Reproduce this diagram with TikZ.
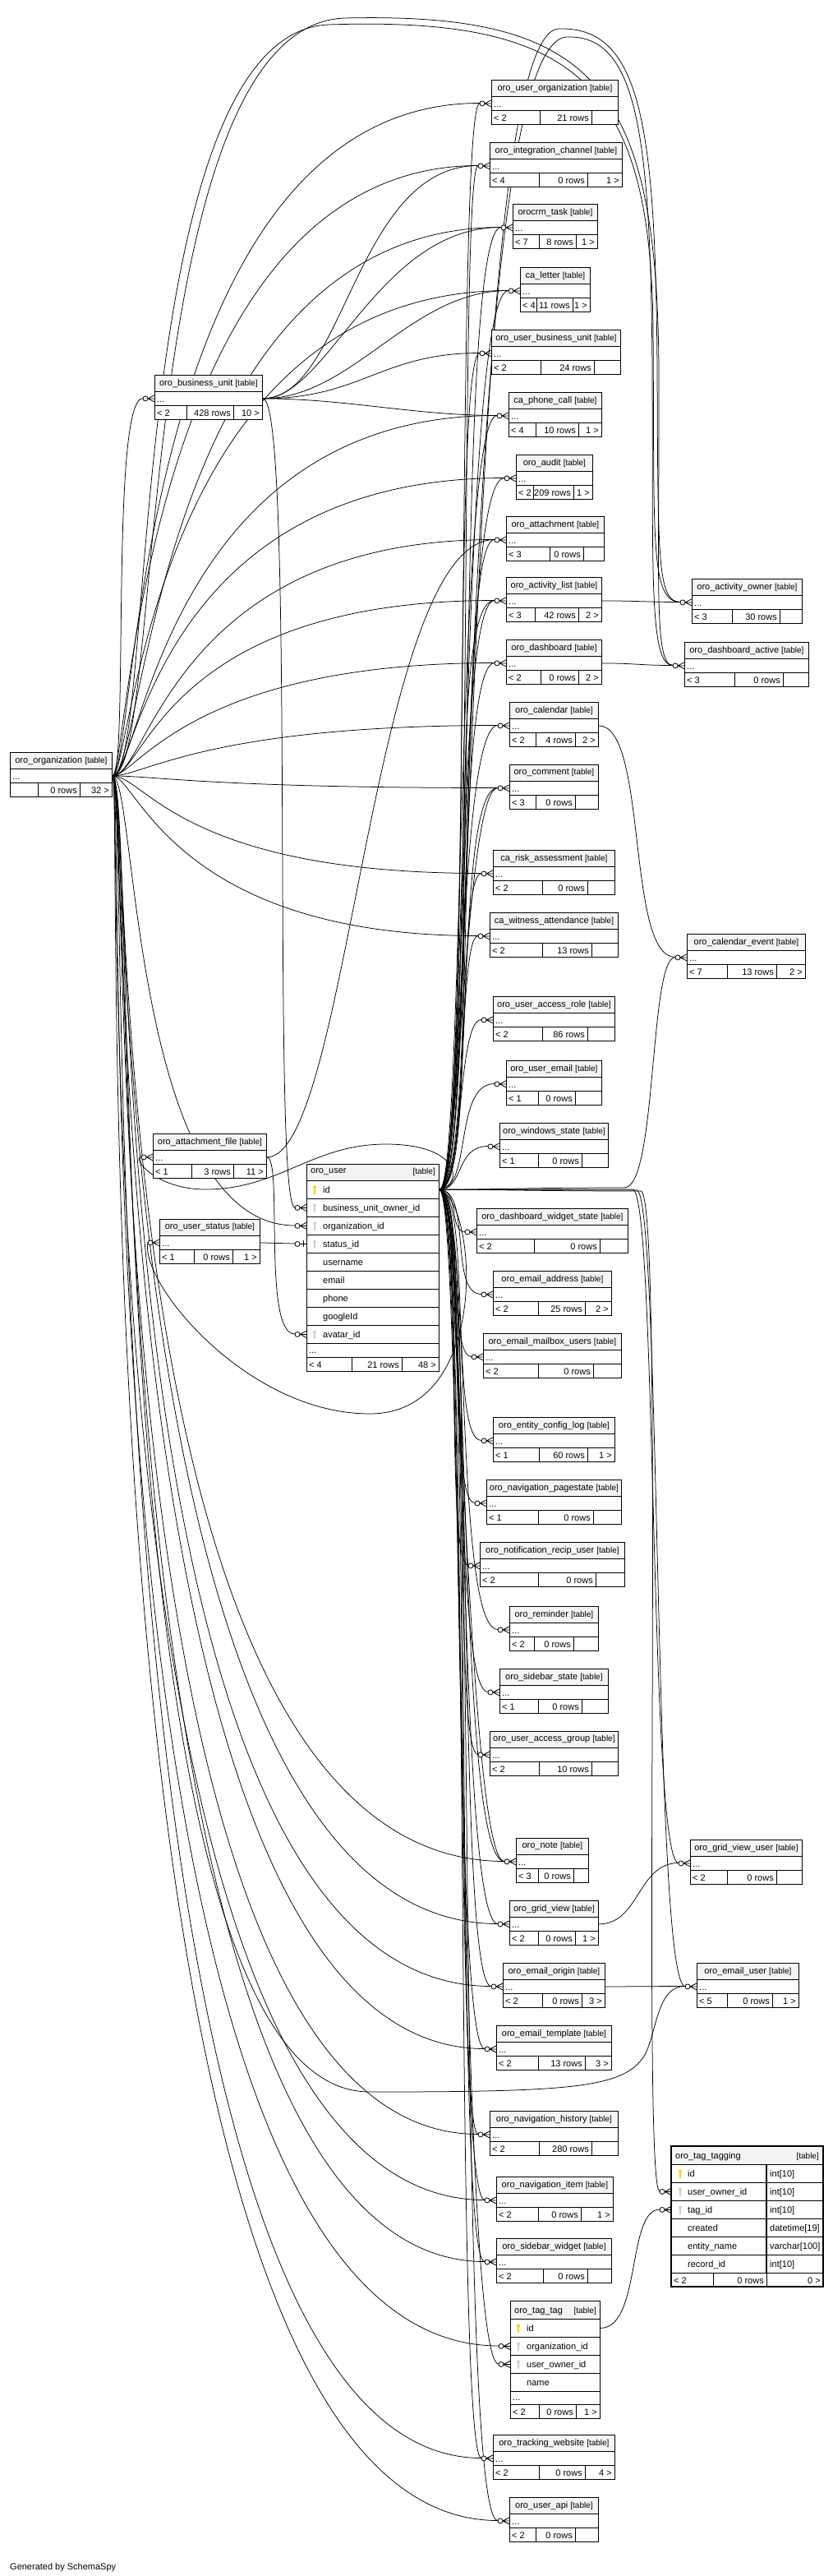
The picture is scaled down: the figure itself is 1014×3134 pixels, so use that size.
\documentclass[tikz,border=0pt]{standalone}
\usepackage{fontspec}
\setmainfont{Liberation Sans}
\usetikzlibrary{backgrounds,calc}
\definecolor{hdr}{HTML}{F4F4F4}
\definecolor{pkc}{HTML}{F2D500}
\definecolor{fkc}{HTML}{CFCFCF}
\newcommand\fsz{\fontsize{11}{13}\selectfont}
\newcommand\tsm[1]{{\fontsize{10}{12}\selectfont #1}}
% simple table: name, x1, x2, ytop, title
\newcommand\mytbl[5]{%
  \node[box,fill=hdr,minimum width={#3-#2},minimum height=20] (#1-h) at (#2,#4) {};
  \node[txt] (#1-ht) at (#1-h.center) {#5 \tsm{[table]}};
  \node[box,minimum width={#3-#2},minimum height=17] (#1) at (#2,{#4+20}) {};
  \node[txt,anchor=base west] (#1-dt) at ({#2+3},{#4+33}) {...};
  \coordinate (#1-i) at ({#2-14},{#4+28.5});
}
% footer: name, x1, s1, s2, x2, ytop(table), left, mid, right
\newcommand\tfoot[9]{%
  \node[box,minimum width={#5-#2},minimum height=17] (#1-f) at (#2,{#6+37}) {};
  \draw[tline] (#3,{#6+37}) -- (#3,{#6+54}) (#4,{#6+37}) -- (#4,{#6+54});
  \node[txt,anchor=base west] (#1-fl) at ({#2+3},{#6+50}) {#7};
  \node[txt,anchor=base east] (#1-fm) at ({#4-3},{#6+50}) {#8};
  \node[txt,anchor=base east] (#1-fr) at ({#5-3},{#6+50}) {#9};
}
% detailed row: name, x, ytop, width, text
\newcommand\drow[5]{%
  \node[box,minimum width=#4,minimum height=22] (#1) at (#2,#3) {};
  \node[txt,anchor=base west] (#1-t) at ({#2+20},{#3+15}) {#5};
}
\newcommand\keyic[3]{%
  \fill[#1] (#2,{#3-2.5}) circle (2);
  \draw[#1,line width=1.4pt] (#2,{#3-2}) -- (#2,{#3+6});
}
\newcommand\crow[1]{%
  \begin{scope}[shift={(#1.west)}]
    \draw[mk] (-8,0) -- (0,-4) (-8,0) -- (0,0) (-8,0) -- (0,4);
    \draw[mk,fill=white] (-11,0) circle (3);
  \end{scope}}
\newcommand\crowone[1]{%
  \begin{scope}[shift={(#1.west)}]
    \draw[mk] (-8,0) -- (0,0) (-4,-4) -- (-4,4);
    \draw[mk,fill=white] (-11,0) circle (3);
  \end{scope}}
\begin{document}
\begin{tikzpicture}[x=1pt,y=-1pt,
  txt/.style={inner sep=0,font=\fsz},
  tline/.style={line width=0.8pt},
  box/.style={draw,inner sep=0,anchor=north west,line width=0.8pt,fill=white},
  rel/.style={line width=0.75pt},
  mk/.style={line width=0.8pt}]
\useasboundingbox (0,0) rectangle (1014,3134);
\begin{pgfonlayer}{background}
\fill[white] (0,0) rectangle (1014,3134);
\end{pgfonlayer}

% ---------- left tables
\mytbl{org}{12}{136}{915}{oro\_organization}
\tfoot{org}{12}{46}{97}{136}{915}{}{0 rows}{32 >}
\mytbl{bu}{188}{319}{456}{oro\_business\_unit}
\tfoot{bu}{188}{227}{284}{319}{456}{< 2}{428 rows}{10 >}
\mytbl{attf}{186}{324}{1379}{oro\_attachment\_file}
\tfoot{attf}{186}{233}{284}{324}{1379}{< 1}{3 rows}{11 >}
\mytbl{ustat}{194}{316}{1483}{oro\_user\_status}
\tfoot{ustat}{194}{236}{283}{316}{1483}{< 1}{0 rows}{1 >}

% ---------- oro_user
\node[box,fill=hdr,minimum width=161,minimum height=20] (user-h) at (373,1416) {};
\node[txt,anchor=west] (user-ht) at (378,1426) {oro\_user};
\node[txt,anchor=east] (user-hs) at (530,1426) {\tsm{[table]}};
\drow{user-id}{373}{1436}{161}{id}
\drow{user-bu}{373}{1458}{161}{business\_unit\_owner\_id}
\drow{user-org}{373}{1480}{161}{organization\_id}
\drow{user-st}{373}{1502}{161}{status\_id}
\drow{user-un}{373}{1524}{161}{username}
\drow{user-em}{373}{1546}{161}{email}
\drow{user-ph}{373}{1568}{161}{phone}
\drow{user-gg}{373}{1590}{161}{googleId}
\drow{user-av}{373}{1612}{161}{avatar\_id}
\node[box,minimum width=161,minimum height=17] (user-d) at (373,1634) {};
\node[txt,anchor=base west] (user-dt) at (376,1646) {...};
\tfoot{user}{373}{428}{489}{534}{1614}{< 4}{21 rows}{48 >}
\keyic{pkc}{383}{1447}
\keyic{fkc}{383}{1469}
\keyic{fkc}{383}{1491}
\keyic{fkc}{383}{1513}
\keyic{fkc}{383}{1623}
\coordinate (user-bu-i) at (359,1469);
\coordinate (user-org-i) at (359,1491);
\coordinate (user-st-i) at (359,1513);
\coordinate (user-av-i) at (359,1623);

% ---------- middle column
\mytbl{uorg}{598}{752}{97}{oro\_user\_organization}
\tfoot{uorg}{598}{657}{720}{752}{97}{< 2}{21 rows}{}
\mytbl{integ}{596}{757}{173}{oro\_integration\_channel}
\tfoot{integ}{596}{656}{715}{757}{173}{< 4}{0 rows}{1 >}
\mytbl{task}{624}{727}{248}{orocrm\_task}
\tfoot{task}{624}{656}{701}{727}{248}{< 7}{8 rows}{1 >}
\mytbl{letter}{633}{718}{325}{ca\_letter}
\tfoot{letter}{633}{653}{697}{718}{325}{< 4}{11 rows}{1 >}
\mytbl{uorgbu}{598}{755}{401}{oro\_user\_business\_unit}
\tfoot{uorgbu}{598}{658}{723}{755}{401}{< 2}{24 rows}{}
\mytbl{phone}{619}{732}{477}{ca\_phone\_call}
\tfoot{phone}{619}{652}{704}{732}{477}{< 4}{10 rows}{1 >}
\mytbl{audit}{628}{721}{553}{oro\_audit}
\tfoot{audit}{628}{649}{698}{721}{553}{< 2}{209 rows}{1 >}
\mytbl{attach}{616}{735}{628}{oro\_attachment}
\tfoot{attach}{616}{669}{710}{735}{628}{< 3}{0 rows}{}
\mytbl{actlist}{616}{732}{702}{oro\_activity\_list}
\tfoot{actlist}{616}{651}{704}{732}{702}{< 3}{42 rows}{2 >}
\mytbl{dash}{616}{732}{778}{oro\_dashboard}
\tfoot{dash}{616}{658}{704}{732}{778}{< 2}{0 rows}{2 >}
\mytbl{cal}{620}{728}{854}{oro\_calendar}
\tfoot{cal}{620}{652}{700}{728}{854}{< 2}{4 rows}{2 >}
\mytbl{comment}{620}{728}{930}{oro\_comment}
\tfoot{comment}{620}{652}{700}{728}{930}{< 3}{0 rows}{}
\mytbl{risk}{600}{748}{1034}{ca\_risk\_assessment}
\tfoot{risk}{600}{660}{715}{748}{1034}{< 2}{0 rows}{}
\mytbl{witness}{596}{752}{1110}{ca\_witness\_attendance}
\tfoot{witness}{596}{660}{720}{752}{1110}{< 2}{13 rows}{}
\mytbl{uacr}{600}{748}{1212}{oro\_user\_access\_role}
\tfoot{uacr}{600}{660}{715}{748}{1212}{< 2}{86 rows}{}
\mytbl{uemail}{616}{732}{1290}{oro\_user\_email}
\tfoot{uemail}{616}{655}{700}{732}{1290}{< 1}{0 rows}{}
\mytbl{win}{608}{740}{1366}{oro\_windows\_state}
\tfoot{win}{608}{655}{708}{740}{1366}{< 1}{0 rows}{}
\mytbl{dws}{580}{764}{1470}{oro\_dashboard\_widget\_state}
\tfoot{dws}{580}{650}{730}{764}{1470}{< 2}{0 rows}{}
\mytbl{eaddr}{600}{744}{1546}{oro\_email\_address}
\tfoot{eaddr}{600}{655}{712}{744}{1546}{< 2}{25 rows}{2 >}
\mytbl{emu}{588}{756}{1622}{oro\_email\_mailbox\_users}
\tfoot{emu}{588}{655}{722}{756}{1622}{< 2}{0 rows}{}
\mytbl{ecl}{600}{748}{1724}{oro\_entity\_config\_log}
\tfoot{ecl}{600}{656}{715}{748}{1724}{< 1}{60 rows}{1 >}
\mytbl{navps}{592}{756}{1800}{oro\_navigation\_pagestate}
\tfoot{navps}{592}{655}{722}{756}{1800}{< 1}{0 rows}{}
\mytbl{nru}{584}{760}{1876}{oro\_notification\_recip\_user}
\tfoot{nru}{584}{655}{725}{760}{1876}{< 2}{0 rows}{}
\mytbl{rem}{620}{728}{1954}{oro\_reminder}
\tfoot{rem}{620}{650}{698}{728}{1954}{< 2}{0 rows}{}
\mytbl{sbs}{608}{740}{2030}{oro\_sidebar\_state}
\tfoot{sbs}{608}{655}{708}{740}{2030}{< 1}{0 rows}{}
\mytbl{uag}{596}{752}{2106}{oro\_user\_access\_group}
\tfoot{uag}{596}{656}{720}{752}{2106}{< 2}{10 rows}{}
\mytbl{note}{628}{716}{2236}{oro\_note}
\tfoot{note}{628}{655}{698}{716}{2236}{< 3}{0 rows}{}
\mytbl{gv}{620}{728}{2312}{oro\_grid\_view}
\tfoot{gv}{620}{655}{700}{728}{2312}{< 2}{0 rows}{1 >}
\mytbl{eorig}{612}{736}{2388}{oro\_email\_origin}
\tfoot{eorig}{612}{660}{708}{736}{2388}{< 2}{0 rows}{3 >}
\mytbl{etpl}{604}{744}{2464}{oro\_email\_template}
\tfoot{etpl}{604}{655}{712}{744}{2464}{< 2}{13 rows}{3 >}
\mytbl{navh}{596}{752}{2568}{oro\_navigation\_history}
\tfoot{navh}{596}{656}{720}{752}{2568}{< 2}{280 rows}{}
\mytbl{navi}{604}{746}{2648}{oro\_navigation\_item}
\tfoot{navi}{604}{655}{707}{746}{2648}{< 2}{0 rows}{1 >}
\mytbl{sbw}{604}{744}{2723}{oro\_sidebar\_widget}
\tfoot{sbw}{604}{661}{715}{744}{2723}{< 2}{0 rows}{}
\mytbl{track}{600}{748}{2962}{oro\_tracking\_website}
\tfoot{track}{600}{656}{712}{748}{2962}{< 2}{0 rows}{4 >}
\mytbl{uapi}{620}{728}{3038}{oro\_user\_api}
\tfoot{uapi}{620}{652}{700}{728}{3038}{< 2}{0 rows}{}

% ---------- oro_tag_tag
\node[box,fill=hdr,minimum width=109,minimum height=22] (tagtag-h) at (621,2799) {};
\node[txt,anchor=base west] (tagtag-ht) at (626,2814) {oro\_tag\_tag};
\node[txt,anchor=base east] (tagtag-hs) at (726,2814) {\tsm{[table]}};
\drow{tagtag-id}{621}{2821}{109}{id}
\drow{tagtag-org}{621}{2843}{109}{organization\_id}
\drow{tagtag-user}{621}{2865}{109}{user\_owner\_id}
\drow{tagtag-name}{621}{2887}{109}{name}
\node[box,minimum width=109,minimum height=16] (tagtag-d) at (621,2909) {};
\node[txt,anchor=base west] (tagtag-dt) at (624,2920) {...};
\tfoot{tagtag}{621}{656}{701}{730}{2888}{< 2}{0 rows}{1 >}
\keyic{pkc}{631}{2832}
\keyic{fkc}{631}{2854}
\keyic{fkc}{631}{2876}
\coordinate (tagtag-org-i) at (607,2854);
\coordinate (tagtag-user-i) at (607,2876);

% ---------- right column
\mytbl{actown}{842}{976}{704}{oro\_activity\_owner}
\tfoot{actown}{842}{891}{949}{976}{704}{< 3}{30 rows}{}
\mytbl{dashact}{833}{984}{781}{oro\_dashboard\_active}
\tfoot{dashact}{833}{894}{953}{984}{781}{< 3}{0 rows}{}
\mytbl{calev}{836}{980}{1136}{oro\_calendar\_event}
\tfoot{calev}{836}{885}{945}{980}{1136}{< 7}{13 rows}{2 >}
\mytbl{gvu}{840}{976}{2238}{oro\_grid\_view\_user}
\tfoot{gvu}{840}{885}{945}{976}{2238}{< 2}{0 rows}{}
\mytbl{euser}{848}{972}{2388}{oro\_email\_user}
\tfoot{euser}{848}{885}{940}{972}{2388}{< 5}{0 rows}{1 >}

% ---------- oro_tag_tagging
\node[box,fill=hdr,minimum width=185,minimum height=22] (tagging-h) at (817,2611) {};
\node[txt,anchor=base west] (tagging-ht) at (822,2626) {oro\_tag\_tagging};
\node[txt,anchor=base east] (tagging-hs) at (997,2626) {\tsm{[table]}};
\drow{tagging-id}{817}{2633}{185}{id}
\drow{tagging-user}{817}{2655}{185}{user\_owner\_id}
\drow{tagging-tag}{817}{2677}{185}{tag\_id}
\drow{tagging-cr}{817}{2699}{185}{created}
\drow{tagging-en}{817}{2721}{185}{entity\_name}
\drow{tagging-rec}{817}{2743}{185}{record\_id}
\draw[line width=1.6pt] (933,2633) -- (933,2765);
\node[txt,anchor=base west] (tagging-t1) at (937,2648) {int[10]};
\node[txt,anchor=base west] (tagging-t2) at (937,2670) {int[10]};
\node[txt,anchor=base west] (tagging-t3) at (937,2692) {int[10]};
\node[txt,anchor=base west] (tagging-t4) at (937,2714) {datetime[19]};
\node[txt,anchor=base west] (tagging-t5) at (937,2736) {varchar[100]};
\node[txt,anchor=base west] (tagging-t6) at (937,2758) {int[10]};
\tfoot{tagging}{817}{868}{933}{1002}{2728}{< 2}{0 rows}{0 >}
\draw[line width=2.2pt] (817,2611) rectangle (1002,2782);
\keyic{pkc}{828}{2644}
\keyic{fkc}{828}{2666}
\keyic{fkc}{828}{2688}
\coordinate (tagging-user-i) at (803,2666);
\coordinate (tagging-tag-i) at (803,2688);

\node[txt,anchor=base west] (gen) at (12,3126) {Generated by SchemaSpy};

% ---------- markers
\foreach \t in {uorg,integ,task,letter,uorgbu,phone,audit,attach,actlist,dash,cal,comment,risk,witness,uacr,uemail,win,dws,eaddr,emu,ecl,navps,nru,rem,sbs,uag,note,gv,eorig,etpl,navh,navi,sbw,track,uapi,actown,dashact,calev,gvu,euser,bu,attf,ustat,user-bu,user-org,user-av,tagtag-org,tagtag-user,tagging-user,tagging-tag}{\crow{\t}}
\crowone{user-st}

% ---------- relations
\begin{pgfonlayer}{background}
% from oro_organization
\foreach \t/\a/\b in {uorg/30/424,integ/20/412,task/40/420,letter/25/439,phone/35/405,audit/30/424,attach/45/392,actlist/40/402,dash/30/372,cal/40/356,comment/50/346,risk/40/366,witness/30/372,note/25/494,gv/20/476,eorig/30/488,etpl/20/470,navh/25/482,navi/15/500,sbw/30/490,tagtag-org/20/527,track/25/496,uapi/15/526,bu/20/40,user-org/30/200}
  {\draw[rel] (org.east) .. controls +(\a,0) and +(-\b,0) .. (\t-i);}
\draw[rel] (org.east) .. controls (190,945) and (150,40) .. (400,30) .. controls (700,20) and (792,100) .. (795,400) .. controls (797,650) and (790,732) .. (actown-i);
\draw[rel] (org.east) .. controls (200,945) and (160,30) .. (420,22) .. controls (720,15) and (800,100) .. (802,450) .. controls (803,700) and (795,809) .. (dashact-i);
\draw[rel] (org.east) .. controls (170,945) and (110,2545) .. (450,2545) .. controls (700,2545) and (760,2540) .. (785,2500) .. controls (800,2470) and (800,2416) .. (euser-i);
% from oro_user
\foreach \t/\a/\b in {uorg/40/30,integ/45/25,task/50/60,letter/35/60,uorgbu/40/35,phone/30/50,audit/45/60,attach/50/50,actlist/35/50,actlist/60/70,dash/40/50,cal/30/50,comment/45/55,comment/25/40,risk/40/30,witness/35/25,uacr/30/30,uemail/40/50,win/30/40,dws/25/20,eaddr/40/40,emu/30/30,ecl/40/40,navps/35/35,nru/30/30,rem/40/55,sbs/35/45,uag/45/35,note/40/60,note/25/45,gv/35/50,eorig/45/45,etpl/30/40,navh/40/30,navi/35/40,sbw/45/40,tagtag-user/30/50,track/40/35,uapi/50/55}
  {\draw[rel] (user-id.east) .. controls +(\a,0) and +(-\b,0) .. (\t-i);}
\draw[rel] (user-id.east) .. controls (580,1447) and (565,40) .. (680,35) .. controls (780,32) and (798,150) .. (800,450) .. controls (801,680) and (800,732) .. (actown-i);
\draw[rel] (user-id.east) .. controls (575,1447) and (560,50) .. (690,45) .. controls (775,42) and (792,160) .. (794,450) .. controls (795,700) and (790,809) .. (dashact-i);
\draw[rel] (user-id.east) .. controls (600,1447) and (650,1445) .. (760,1445) .. controls (800,1445) and (790,1165) .. (calev-i);
\draw[rel] (user-id.east) .. controls (600,1447) and (650,1447) .. (770,1447) .. controls (800,1447) and (790,2266) .. (gvu-i);
\draw[rel] (user-id.east) .. controls (600,1447) and (650,1448) .. (775,1448) .. controls (805,1448) and (795,2416) .. (euser-i);
\draw[rel] (user-id.east) .. controls (600,1447) and (650,1449) .. (780,1449) .. controls (810,1449) and (780,2666) .. (tagging-user-i);
\draw[rel] (user-id.east) .. controls (565,1440) and (560,1392) .. (470,1392) .. controls (380,1392) and (340,1447) .. (250,1447) .. controls (190,1447) and (160,1409) .. (attf-i);
\draw[rel] (user-id.east) .. controls (580,1460) and (600,1720) .. (450,1720) .. controls (300,1720) and (170,1560) .. (ustat-i);
% from oro_business_unit
\draw[rel] (bu.east) .. controls (360,484) and (330,1469) .. (user-bu-i);
\foreach \t/\a/\b in {uorgbu/120/120,integ/100/150,task/80/150,letter/110/120,phone/100/100}
  {\draw[rel] (bu.east) .. controls +(\a,0) and +(-\b,0) .. (\t-i);}
% others
\draw[rel] (attf.east) .. controls +(100,0) and +(-150,0) .. (attach-i);
\draw[rel] (attf.east) .. controls +(20,0) and +(-40,0) .. (user-av-i);
\draw[rel] (ustat.east) -- (user-st-i);
\draw[rel] (actlist.east) .. controls +(40,0) and +(-40,0) .. (actown-i);
\draw[rel] (dash.east) .. controls +(40,0) and +(-40,0) .. (dashact-i);
\draw[rel] (cal.east) .. controls +(60,0) and +(-60,0) .. (calev-i);
\draw[rel] (gv.east) .. controls +(50,0) and +(-50,0) .. (gvu-i);
\draw[rel] (eorig.east) .. controls +(40,0) and +(-40,0) .. (euser-i);
\draw[rel] (tagtag-id.east) .. controls +(50,0) and +(-40,0) .. (tagging-tag-i);
\end{pgfonlayer}
\end{tikzpicture}
\end{document}
